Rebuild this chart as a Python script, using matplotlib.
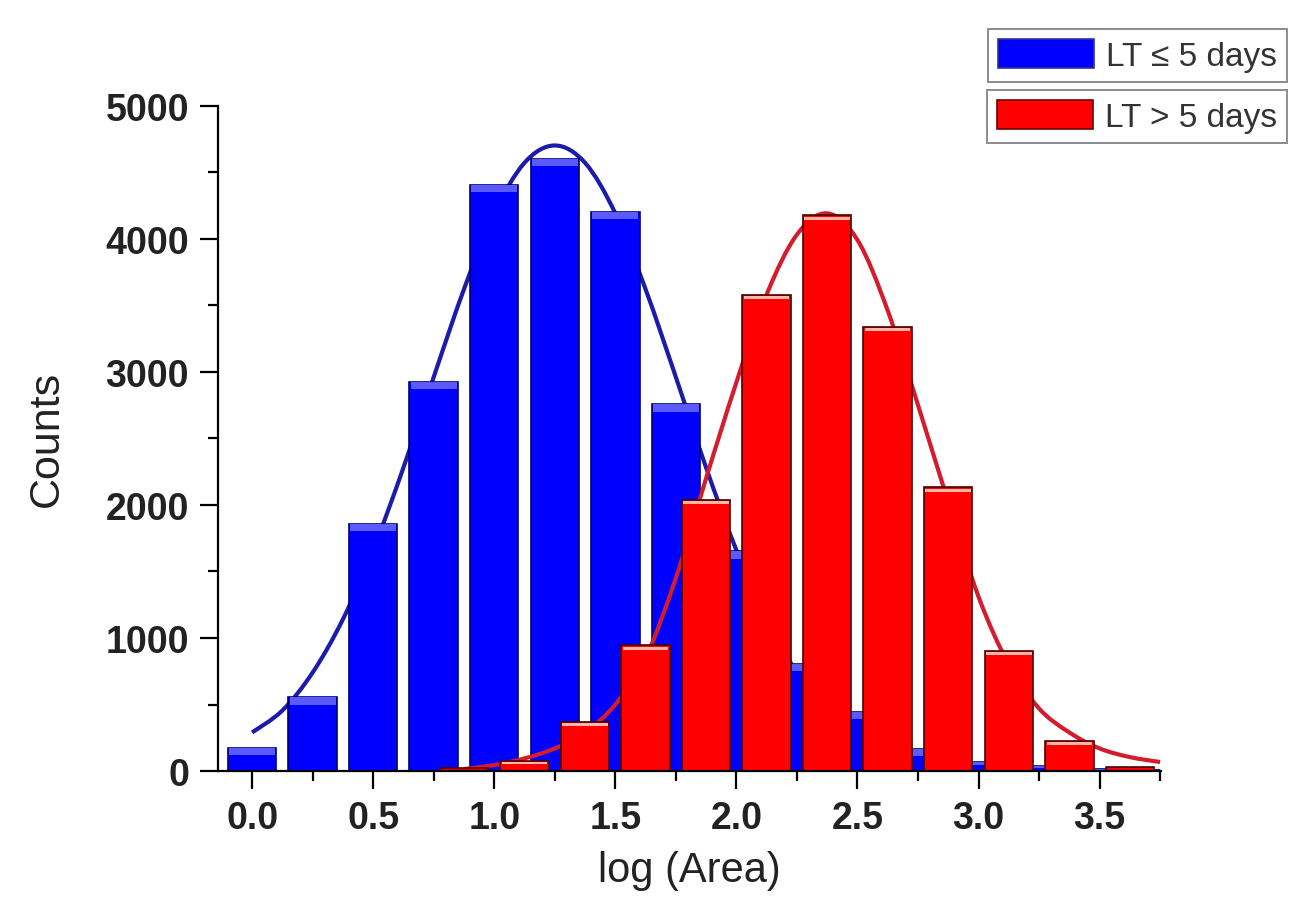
import numpy as np
import matplotlib
matplotlib.use("Agg")
import matplotlib.pyplot as plt
from matplotlib.path import Path
from matplotlib.patches import PathPatch, Patch

plt.rcParams['font.family'] = ['Liberation Sans', 'DejaVu Sans']

# histogram bins (bin centres in log(Area))
blue_x = [0.0, 0.25, 0.5, 0.75, 1.0, 1.25, 1.5, 1.75, 2.0, 2.25, 2.5, 2.75, 3.0, 3.25, 3.5]
blue_counts = [172, 555, 1855, 2925, 4405, 4600, 4200, 2755, 1650, 805, 445, 165, 70, 35, 15]

red_x = [0.875, 1.125, 1.375, 1.625, 1.875, 2.125, 2.375, 2.625, 2.875, 3.125, 3.375, 3.625]
red_counts = [20, 75, 372, 945, 2040, 3580, 4175, 3340, 2135, 905, 228, 30]

# fitted curves
blue_fit_x = [0.0, 0.125, 0.25, 0.375, 0.5, 0.625, 0.75, 0.875, 1.0, 1.125, 1.25, 1.375, 1.5,
              1.625, 1.75, 1.875, 2.0, 2.125, 2.25, 2.375, 2.5, 2.625, 2.75, 2.875, 3.0,
              3.125, 3.25, 3.375, 3.5, 3.625, 3.75]
blue_fit_y = [290, 455, 740, 1140, 1660, 2280, 2960, 3620, 4190, 4570, 4700, 4570, 4190,
              3620, 2960, 2280, 1660, 1140, 740, 455, 260, 143, 73, 36, 16,
              7, 3, 1, 0, 0, 0]

red_fit_x = [0.875, 1.0, 1.125, 1.25, 1.375, 1.5, 1.625, 1.75, 1.875, 2.0, 2.125, 2.25,
             2.375, 2.5, 2.625, 2.75, 2.875, 3.0, 3.125, 3.25, 3.375, 3.5, 3.625, 3.75]
red_fit_y = [15, 45, 95, 170, 290, 500, 850, 1450, 2200, 2920, 3580, 4030,
             4190, 3990, 3460, 2750, 2020, 1310, 800, 470, 290, 170, 105, 68]

labels = ['LT \u2264 5 days', 'LT > 5 days']


def smooth_path(x, y):
    # Catmull-Rom through the read points, drawn as cubic beziers
    pts = np.column_stack([x, y]).astype(float)
    verts = [pts[0]]
    codes = [Path.MOVETO]
    n = len(pts)
    for i in range(n - 1):
        p0 = pts[i - 1] if i > 0 else pts[i]
        p1 = pts[i]
        p2 = pts[i + 1]
        p3 = pts[i + 2] if i + 2 < n else pts[i + 1]
        verts += [p1 + (p2 - p0) / 6, p2 - (p3 - p1) / 6, p2]
        codes += [Path.CURVE4] * 3
    return Path(verts, codes)


fig = plt.figure(figsize=(12.91, 9.03), dpi=100)
ax = fig.add_axes([0.169, 0.145, 0.730, 0.737])

bw = 0.2
blue_c = np.array(blue_counts, dtype=float)
red_c = np.array(red_counts, dtype=float)

# blue fit sits behind everything
ax.add_patch(PathPatch(smooth_path(blue_fit_x, blue_fit_y), fill=False,
                       edgecolor='#1c1ca8', lw=3.0, zorder=1))
ax.bar(blue_x, blue_c, width=bw, color='#0000ff', edgecolor='#000070', lw=1.2, zorder=2)
band = np.minimum(55, blue_c * 0.3)
ax.bar(blue_x, band, width=bw - 0.01, bottom=blue_c - band, color='#5a5aff', lw=0, zorder=2.1)

# red fit above blue bars but below red bars
ax.add_patch(PathPatch(smooth_path(red_fit_x, red_fit_y), fill=False,
                       edgecolor='#d41c2c', lw=3.0, zorder=3))
ax.bar(red_x, red_c, width=bw, color='#ff0000', edgecolor='#4a0000', lw=1.2, zorder=4)
rband = np.minimum(22, red_c * 0.2)
ax.bar(red_x, rband, width=bw - 0.012, bottom=red_c - rband * 1.6, color='#ffb8a8', lw=0, zorder=4.1)

ax.set_xlim(-0.14, 3.752)
ax.set_ylim(0, 5000)

ax.spines['top'].set_visible(False)
ax.spines['right'].set_visible(False)
for s in ('left', 'bottom'):
    ax.spines[s].set_linewidth(1.6)
    ax.spines[s].set_zorder(6)

ax.set_xticks(np.arange(0, 3.51, 0.5))
ax.set_xticks(np.arange(0.25, 3.76, 0.5), minor=True)
ax.set_yticks(np.arange(0, 5001, 1000))
ax.set_yticks(np.arange(500, 5000, 1000), minor=True)
ax.tick_params(which='major', direction='out', length=13, width=1.6, labelsize=27, pad=8)
ax.tick_params(which='minor', direction='out', length=7, width=1.6)
for lab in ax.get_xticklabels() + ax.get_yticklabels():
    lab.set_fontweight('bold')
    lab.set_color('#222222')

ax.set_xlabel('log (Area)', fontsize=30, color='#222222', labelpad=10)
ax.set_ylabel('Counts', fontsize=31, color='#222222', labelpad=28)

# two separately framed legend entries
handles = [Patch(facecolor='#0000ff', edgecolor='#3030a0', lw=1.2),
           Patch(facecolor='#ff0000', edgecolor='#700000', lw=1.2)]
anchors = [(0.997, 0.967), (0.997, 0.899)]
for h, lab, anc in zip(handles, labels, anchors):
    leg = fig.legend(handles=[h], labels=[lab], loc='upper right', bbox_to_anchor=anc,
                     fontsize=24, frameon=True, fancybox=False, shadow=False,
                     handlelength=2.9, handleheight=0.95, handletextpad=0.35,
                     borderpad=0.3, borderaxespad=0)
    leg.get_frame().set_edgecolor('#707070')
    leg.get_frame().set_linewidth(1.4)
    for t in leg.get_texts():
        t.set_color('#333333')

fig.savefig('out.png', dpi=100)
